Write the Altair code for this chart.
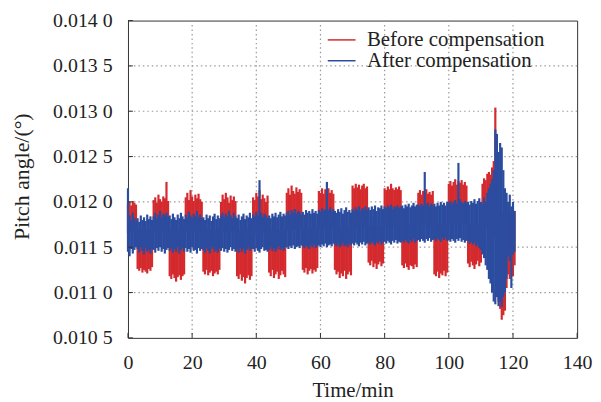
import altair as alt
import pandas as pd

# ---- data (values in units of 1e-6 degree), sampled every 0.5 min, 0 .. 120.5 min ----
red_hi = (
    [11980, 12000, 11960, 12010, 11990, 11970]
    + [11700, 11680, 11690, 11700, 11670, 11690, 11700, 11680, 11690, 11700]
    + [12020, 12050, 11990, 12080, 12030, 12000, 12060, 12040, 12220, 12010]
    + [11700, 11690, 11680, 11700, 11690, 11680, 11700, 11690, 11680, 11700]
    + [12050, 12100, 12020, 12130, 12060, 12010, 12080, 12040, 12090, 12030, 12000]
    + [11700, 11680, 11690, 11700, 11680, 11690, 11700, 11680, 11690, 11700, 11680]
    + [12000, 12080, 12030, 12100, 12050, 11990, 12070, 12020, 12060, 12010]
    + [11700, 11690, 11680, 11700, 11690, 11680, 11700, 11690, 11680, 11700]
    + [12050, 12020, 12100, 12060, 12130, 12030, 12080, 12040, 12000, 12070]
    + [11700, 11690, 11700, 11680, 11690, 11700, 11690, 11680, 11700, 11690, 11700]
    + [12100, 12150, 12080, 12180, 12120, 12090, 12160, 12110, 12140, 12100]
    + [11720, 11710, 11720, 11700, 11720, 11710, 11720, 11700, 11710, 11720]
    + [12120, 12100, 12150, 12090, 12140, 12110, 12150, 12100, 12130, 12090]
    + [11730, 11720, 11710, 11730, 11720, 11710, 11730, 11720, 11710, 11730, 11720]
    + [12180, 12150, 12200, 12160, 12190, 12140, 12180, 12200, 12150, 12170]
    + [11740, 11730, 11740, 11720, 11740, 11730, 11740, 11720, 11730, 11740]
    + [12150, 12130, 12170, 12140, 12200, 12150, 12130, 12160, 12140, 12170, 12130]
    + [11750, 11740, 11750, 11730, 11750, 11740, 11750, 11730, 11740, 11750]
    + [12100, 12130, 12080, 12120, 12100, 12140, 12090, 12110, 12080, 12120]
    + [11760, 11750, 11760, 11740, 11760, 11750, 11760, 11740, 11750]
    + [12200, 12230, 12180, 12220, 12250, 12190, 12230, 12210, 12240, 12190, 12220, 12180]
    + [11760, 11750, 11760, 11740, 11760, 11750, 11760, 11740, 11750]
    + [12200, 12260, 12240, 12310, 12330, 12300, 12380, 12450, 13040]
    + [12200, 11900, 11950, 11900, 11880, 11900, 11920, 11900, 11880, 11900, 11920, 11900]
)
red_lo = (
    [11650, 11680, 11660, 11700, 11670, 11650]
    + [11260, 11240, 11270, 11220, 11250, 11230, 11210, 11260, 11240, 11280]
    + [11660, 11650, 11680, 11670, 11650, 11690, 11660, 11670, 11650, 11680]
    + [11180, 11150, 11200, 11160, 11120, 11170, 11190, 11140, 11180, 11200]
    + [11680, 11660, 11650, 11690, 11670, 11660, 11680, 11650, 11670, 11690, 11660]
    + [11230, 11200, 11250, 11190, 11220, 11240, 11180, 11210, 11230, 11200, 11250]
    + [11670, 11650, 11680, 11660, 11690, 11670, 11650, 11680, 11660, 11670]
    + [11180, 11150, 11200, 11130, 11170, 11100, 11160, 11190, 11140, 11180]
    + [11660, 11680, 11650, 11670, 11690, 11660, 11680, 11650, 11670, 11660]
    + [11220, 11180, 11250, 11160, 11200, 11230, 11150, 11190, 11240, 11200, 11170]
    + [11680, 11700, 11690, 11710, 11680, 11700, 11690, 11710, 11700, 11690]
    + [11250, 11220, 11270, 11200, 11240, 11260, 11210, 11250, 11230, 11270]
    + [11700, 11720, 11710, 11700, 11720, 11710, 11700, 11720, 11710, 11700]
    + [11250, 11200, 11230, 11160, 11210, 11180, 11240, 11150, 11200, 11230, 11190]
    + [11720, 11730, 11710, 11720, 11730, 11710, 11720, 11730, 11710, 11720]
    + [11330, 11300, 11350, 11280, 11320, 11260, 11310, 11340, 11290, 11320]
    + [11730, 11740, 11720, 11730, 11740, 11720, 11730, 11740, 11720, 11730, 11740]
    + [11300, 11270, 11320, 11280, 11250, 11300, 11290, 11260, 11310, 11280]
    + [11750, 11760, 11740, 11750, 11760, 11740, 11750, 11760, 11740, 11750]
    + [11200, 11180, 11230, 11160, 11210, 11190, 11240, 11180, 11220]
    + [11760, 11770, 11750, 11760, 11770, 11750, 11760, 11770, 11750, 11760, 11770, 11750]
    + [11320, 11280, 11340, 11300, 11260, 11310, 11350, 11290, 11330]
    + [11750, 11740, 11720, 11700, 11680, 11660, 11640, 11620, 11600]
    + [11000, 10900, 10820, 10700, 10750, 10800, 11050, 11200, 11150, 11250, 11180, 11300]
)
blue_hi = (
    [12150, 11850, 11800, 11880, 11820, 11790]
    + [11820, 11780, 11850, 11800, 11830, 11790, 11860, 11810, 11840, 11800]
    + [11840, 11880, 11820, 11860, 11900, 11830, 11870, 11850, 11880, 11840]
    + [11850, 11810, 11870, 11830, 11800, 11860, 11820, 11880, 11840, 11810]
    + [11860, 11830, 11890, 11850, 11820, 11870, 11840, 11900, 11830, 11860, 11820]
    + [11830, 11800, 11860, 11820, 11850, 11790, 11840, 11870, 11810, 11850, 11820]
    + [11850, 11880, 11830, 11870, 11840, 11900, 11850, 11820, 11880, 11840]
    + [11820, 11860, 11800, 11840, 11870, 11810, 11850, 11830, 11880, 11820]
    + [11860, 11840, 11890, 11850, 12240, 11880, 11830, 11870, 11850, 11820]
    + [11850, 11820, 11870, 11840, 11880, 11830, 11860, 11890, 11840, 11870, 11850]
    + [11880, 11900, 11860, 11910, 11880, 11920, 11870, 11900, 11890, 11860]
    + [11890, 11860, 11910, 11880, 11900, 11870, 11920, 11880, 11900, 11870]
    + [11910, 11890, 11930, 11900, 11920, 12220, 11910, 11940, 11900, 11920]
    + [11900, 11880, 11920, 11890, 11930, 11870, 11910, 11940, 11890, 11910, 11880]
    + [11920, 11900, 11940, 11910, 11950, 11900, 11930, 11920, 11950, 11910]
    + [11940, 11910, 11950, 11920, 11960, 11900, 11940, 11930, 11960, 11920]
    + [11950, 11930, 11960, 11940, 11970, 11920, 11950, 11940, 11960, 11930, 11950]
    + [11960, 11930, 11970, 11950, 11980, 11940, 11960, 11990, 11950, 11970]
    + [11970, 11950, 11980, 11960, 12330, 11970, 11990, 11950, 11980, 11960]
    + [11980, 11950, 11990, 11960, 12000, 11970, 11990, 11960, 12000]
    + [11990, 12010, 11970, 12000, 12020, 11980, 12430, 12030, 12000, 11980, 12010, 11990]
    + [12000, 11970, 12010, 11990, 12030, 11980, 12010, 12040, 12000]
    + [11980, 12050, 12000, 12100, 12150, 12200, 12250, 12350, 12800]
    + [12750, 12550, 12650, 12600, 12350, 12150, 12100, 12000, 12080, 11950, 12000, 11900]
)
blue_lo = (
    [11450, 11400, 11480, 11430, 11470, 11500]
    + [11480, 11440, 11500, 11460, 11420, 11490, 11450, 11470, 11430, 11480]
    + [11470, 11440, 11490, 11460, 11500, 11450, 11480, 11430, 11470, 11490]
    + [11460, 11490, 11440, 11480, 11450, 11500, 11430, 11470, 11490, 11450]
    + [11490, 11450, 11480, 11440, 11500, 11460, 11470, 11430, 11490, 11460, 11480]
    + [11470, 11440, 11490, 11460, 11430, 11480, 11500, 11450, 11470, 11440, 11490]
    + [11460, 11490, 11450, 11480, 11440, 11470, 11500, 11460, 11480, 11450]
    + [11470, 11440, 11490, 11450, 11480, 11430, 11470, 11500, 11460, 11480]
    + [11480, 11450, 11490, 11460, 11440, 11480, 11500, 11460, 11470, 11450]
    + [11470, 11500, 11460, 11490, 11450, 11480, 11510, 11470, 11490, 11460, 11500]
    + [11500, 11480, 11510, 11490, 11520, 11480, 11500, 11510, 11490, 11520]
    + [11510, 11490, 11520, 11500, 11480, 11520, 11500, 11530, 11490, 11510]
    + [11520, 11500, 11530, 11510, 11540, 11500, 11520, 11530, 11510, 11540]
    + [11530, 11510, 11540, 11500, 11520, 11550, 11510, 11530, 11500, 11540, 11520]
    + [11540, 11520, 11550, 11530, 11510, 11550, 11530, 11560, 11520, 11540]
    + [11550, 11530, 11560, 11540, 11520, 11560, 11540, 11570, 11530, 11550]
    + [11560, 11540, 11570, 11550, 11530, 11570, 11550, 11580, 11540, 11560, 11550]
    + [11570, 11550, 11580, 11560, 11540, 11580, 11560, 11590, 11550, 11570]
    + [11580, 11560, 11590, 11570, 11550, 11590, 11570, 11600, 11560, 11580]
    + [11590, 11570, 11600, 11580, 11560, 11600, 11580, 11610, 11570]
    + [11580, 11560, 11590, 11570, 11550, 11590, 11570, 11600, 11560, 11580, 11550, 11570]
    + [11570, 11540, 11560, 11530, 11550, 11510, 11530, 11490, 11470]
    + [11420, 11380, 11300, 11250, 11150, 11100, 11000, 10900, 10870]
    + [10950, 10850, 10900, 10840, 10950, 11000, 11150, 11400, 11350, 11050, 11420, 11450]
)
time_min = [k * 0.5 for k in range(len(red_hi))]

series_names = ["Before compensation", "After compensation"]
series_colors = ["#d42a2e", "#2b4c9f"]
x_ticks = [0, 20, 40, 60, 80, 100, 120, 140]
y_ticks = [0.0105, 0.0110, 0.0115, 0.0120, 0.0125, 0.0130, 0.0135, 0.0140]
x_grid = [20, 40, 60, 80, 100, 120]
y_grid = [0.0110, 0.0115, 0.0120, 0.0125, 0.0130, 0.0135]

FONT = "Times New Roman, Liberation Serif, DejaVu Serif, serif"
TXT = "#222222"

df_red = pd.DataFrame({"t": time_min, "lo": [v / 1e6 for v in red_lo],
                       "hi": [v / 1e6 for v in red_hi], "series": series_names[0]})
df_blue = pd.DataFrame({"t": time_min, "lo": [v / 1e6 for v in blue_lo],
                        "hi": [v / 1e6 for v in blue_hi], "series": series_names[1]})

xs = alt.Scale(domain=[0, 140], nice=False, zero=False)
ys = alt.Scale(domain=[0.0105, 0.0140], nice=False, zero=False)

xaxis = alt.Axis(values=x_ticks, title="Time/min", grid=False, ticks=False, domain=False,
                 labelFont=FONT, labelFontSize=20, labelColor=TXT, labelPadding=15,
                 labelFlush=False, labelOverlap=False,
                 titleFont=FONT, titleFontSize=21, titleFontWeight="normal", titleColor=TXT,
                 titleY=59, titleBaseline="alphabetic")
yaxis = alt.Axis(values=y_ticks, title="Pitch angle/(°)", grid=False, ticks=False, domain=False,
                 labelExpr="substring(format(datum.value, '.4f'), 0, 5) + ' ' + substring(format(datum.value, '.4f'), 5)",
                 labelFont=FONT, labelFontSize=20, labelColor=TXT, labelPadding=16,
                 labelFlush=False, labelOverlap=False,
                 titleFont=FONT, titleFontSize=22, titleFontWeight="normal", titleColor=TXT,
                 titleX=-107, titleY=157, titleAngle=270, titleAlign="center",
                 titleBaseline="middle")

X = alt.X("t:Q", scale=xs, axis=xaxis)
Y = alt.Y("lo:Q", scale=ys, axis=yaxis)

color = alt.Color("series:N",
                  scale=alt.Scale(domain=series_names, range=series_colors),
                  legend=alt.Legend(orient="none", legendX=205, legendY=9, title=None,
                                    symbolType="M-2,0H2", symbolSize=196,
                                    symbolStrokeWidth=1.5, labelFont=FONT,
                                    labelFontSize=21, labelColor=TXT, labelOffset=15,
                                    labelLimit=400, rowPadding=-2, padding=0))

grid_x = alt.Chart(pd.DataFrame({"t": x_grid})).mark_rule(
    color="#9a9a9a", strokeWidth=1.2, strokeDash=[1.5, 3]).encode(x=X)
grid_y = alt.Chart(pd.DataFrame({"lo": y_grid})).mark_rule(
    color="#9a9a9a", strokeWidth=1.2, strokeDash=[1.5, 3]).encode(y=Y)

red = alt.Chart(df_red).mark_rule(strokeWidth=2.2).encode(x=X, y=Y, y2="hi:Q", color=color)
blue = alt.Chart(df_blue).mark_rule(strokeWidth=2.2).encode(x=X, y=Y, y2="hi:Q", color=color)

ticks_x = alt.Chart(pd.DataFrame({"t": x_ticks})).mark_rule(color="#333333").encode(
    x=X, y=alt.value(320), y2=alt.value(315))
ticks_y = alt.Chart(pd.DataFrame({"lo": y_ticks})).mark_rule(color="#333333").encode(
    y=Y, x=alt.value(0), x2=alt.value(5))

chart = alt.layer(grid_x, grid_y, red, blue, ticks_x, ticks_y).properties(
    width=453, height=320,
    padding={"left": 121, "top": 11, "right": 16, "bottom": 63},
    autosize=alt.AutoSizeParams(type="none"),
).configure_view(stroke="#333333", strokeWidth=1)

chart.save("out.html", embed_options={"renderer": "svg", "actions": False})
